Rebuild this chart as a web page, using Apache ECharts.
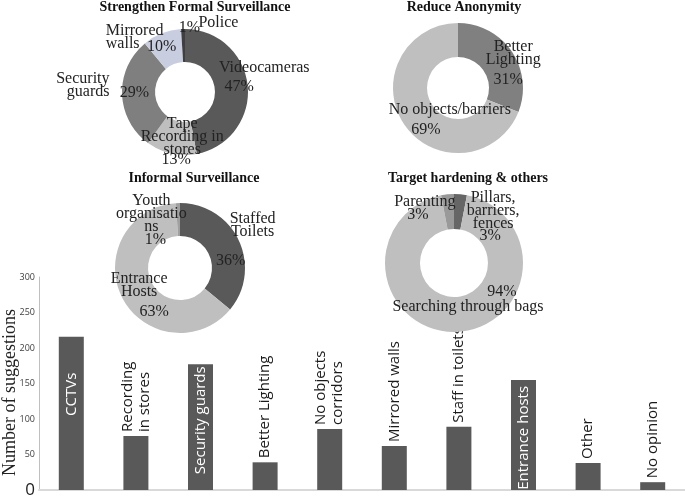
<!DOCTYPE html>
<html>
<head>
<meta charset="utf-8">
<script src="https://cdn.jsdelivr.net/npm/echarts@6/dist/echarts.min.js"></script>
<style>
  html, body { margin: 0; padding: 0; background: #fff; }
  #main { width: 685px; height: 496px; }
</style>
</head>
<body>
<div id="main"></div>
<script>
// donut data (percent)
var formalNames = ['Videocameras', 'Tape\nRecording in\nstores', 'Security\nguards', 'Mirrored\nwalls', 'Police'];
var formalValues = [47, 13, 29, 10, 1];
var anonNames = ['Better\nLighting', 'No objects/barriers'];
var anonValues = [31, 69];
var informalNames = ['Staffed\nToilets', 'Entrance\nHosts', 'Youth\norganisatio\nns'];
var informalValues = [36, 63, 1];
var targetNames = ['Pillars,\nbarriers,\nfences', 'Searching through bags', 'Parenting'];
var targetValues = [3, 94, 3];

// bar data
var barCategories = ['CCTVs', 'Recording\nin stores', 'Security guards', 'Better Lighting', 'No objects\ncorridors',
    'Mirrored walls', 'Staff in toilets', 'Entrance hosts', 'Other', 'No opinion'];
var barValues = [216, 76, 177, 39, 86, 62, 89, 155, 38, 11];

var serif = '"Liberation Serif", "DejaVu Serif", serif';
var sans = '"Open Sans", "Noto Sans", sans-serif';

// layout of each donut, labels shifted by hand from the 'inside' anchor
// nameOff: [dx, dy, align]
var donuts = [{
    title: 'Strengthen Formal Surveillance', tx: 195, ty: 0,
    names: formalNames, values: formalValues,
    colors: ['#595959', '#bfbfbf', '#7f7f7f', '#c8cde0', '#3f3f3f'],
    center: [185, 92], radius: [30, 63],
    nameOff: [[30, -20], [8, -4], [-26, -8, 'right'], [-61, -9, 'left'], [35, -20]],
    pctOff: [[5, -1], [2, 19], [-1, -1], [-5, 1], [6, -15]]
}, {
    title: 'Reduce Anonymity', tx: 464, ty: 0,
    names: anonNames, values: anonValues,
    colors: ['#808080', '#bfbfbf'],
    center: [458, 88], radius: [31, 65],
    nameOff: [[13, -6], [34, -7]],
    pctOff: [[8, 20], [10, 13]]
}, {
    title: 'Informal Surveillance', tx: 194, ty: 171,
    names: informalNames, values: informalValues,
    colors: ['#595959', '#bfbfbf', '#a0a0a0'],
    center: [180, 268], radius: [32, 65],
    nameOff: [[26, -21], [5, -6], [-27, -3]],
    pctOff: [[4, 15], [20, 20], [-23, 23]]
}, {
    title: 'Target hardening & others', tx: 468, ty: 171,
    names: targetNames, values: targetValues,
    colors: ['#666666', '#bfbfbf', '#999999'],
    center: [454, 263], radius: [34, 69],
    nameOff: [[34, 2], [14, -11], [-24, -7]],
    pctOff: [[31, 27], [48, -26], [-31, 6]]
}];

// bar label placement: inside (white) for the tall bars
var barLabelInside = [36, null, 2, null, null, null, null, 6, null, null];

var titles = [];
var series = [];
donuts.forEach(function (d) {
    titles.push({
        text: d.title,
        left: d.tx,
        top: d.ty,
        textAlign: 'center',
        padding: 0,
        textStyle: { fontFamily: serif, fontSize: 14, fontWeight: 'bold', color: '#111' }
    });
    var data = d.values.map(function (v, i) {
        return { name: d.names[i], value: v, itemStyle: { color: d.colors[i] } };
    });
    // slices + percentages
    series.push({
        type: 'pie',
        center: d.center,
        radius: d.radius,
        startAngle: 90,
        clockwise: true,
        silent: true,
        z: 3,
        label: {
            position: 'inside',
            formatter: '{c}%',
            fontFamily: serif, fontSize: 16, color: '#222'
        },
        labelLine: { show: false },
        labelLayout: function (p) {
            var o = d.pctOff[p.dataIndex];
            return { dx: o[0], dy: o[1] };
        },
        data: data
    });
    // names, on a transparent copy
    series.push({
        type: 'pie',
        center: d.center,
        radius: d.radius,
        startAngle: 90,
        clockwise: true,
        silent: true,
        z: 4,
        itemStyle: { color: 'rgba(0,0,0,0)' },
        label: {
            position: 'inside',
            formatter: '{b}',
            fontFamily: serif, fontSize: 16, lineHeight: 13, color: '#222'
        },
        labelLine: { show: false },
        labelLayout: function (p) {
            var o = d.nameOff[p.dataIndex];
            var r = { dx: o[0], dy: o[1] };
            if (o[2]) r.align = o[2];
            return r;
        },
        data: d.values.map(function (v, i) {
            return { name: d.names[i], value: v, itemStyle: { color: 'rgba(0,0,0,0)' } };
        })
    });
});

var barData = barValues.map(function (v, i) {
    var inside = barLabelInside[i];
    var lab = inside === null ? {
        position: 'top', distance: 4, rotate: 90, align: 'left', verticalAlign: 'middle', color: '#1a1a1a'
    } : {
        position: 'insideTop', distance: inside, rotate: 90, align: 'right', verticalAlign: 'middle', color: '#fff'
    };
    return { value: v, label: lab };
});

series.push({
    type: 'bar',
    barWidth: 25,
    itemStyle: { color: '#595959' },
    label: {
        show: true,
        formatter: function (p) { return barCategories[p.dataIndex]; },
        fontFamily: sans, fontSize: 15, lineHeight: 17
    },
    data: barData
});

var myChart = echarts.init(document.getElementById('main'));
var option = {
    animation: false,
    title: titles,
    grid: { left: 39, right: 0, top: 277, bottom: 6, containLabel: false, outerBoundsMode: 'none' },
    xAxis: {
        type: 'category',
        data: barCategories,
        axisLine: { lineStyle: { color: '#d9d9d9', width: 2 } },
        axisTick: { show: false },
        axisLabel: { show: false }
    },
    yAxis: {
        type: 'value',
        min: 0, max: 300, interval: 50,
        name: 'Number of suggestions',
        nameLocation: 'middle',
        nameGap: 20,
        nameMoveOverlap: false,
        nameTextStyle: { fontFamily: serif, fontSize: 18, color: '#222', padding: [0, 18, 0, 0] },
        axisLine: { show: true, lineStyle: { color: '#bfbfbf', width: 1 } },
        axisTick: { show: false },
        splitLine: { show: false },
        axisLabel: {
            margin: 4,
            formatter: function (v) { return v === 0 ? '{big|0}' : '{small|' + v + '}'; },
            rich: {
                small: { fontFamily: sans, fontSize: 9, color: '#404040' },
                big: { fontFamily: sans, fontSize: 17, color: '#222' }
            }
        }
    },
    series: series
};
myChart.setOption(option);
</script>
</body>
</html>
